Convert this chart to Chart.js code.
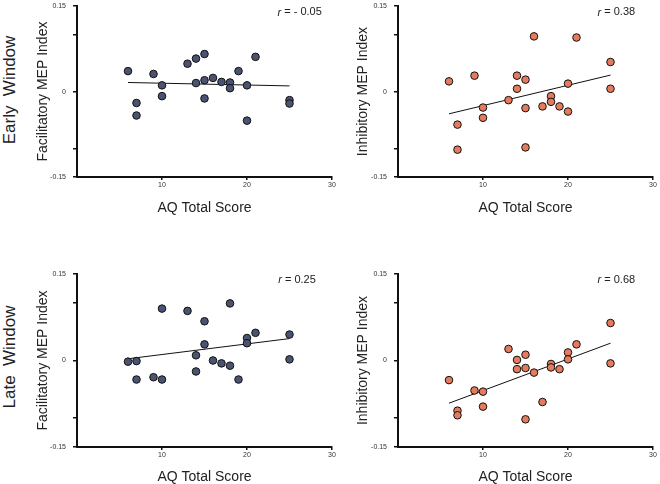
<!DOCTYPE html>
<html>
<head>
<meta charset="utf-8">
<script src="https://cdn.jsdelivr.net/npm/chart.js@4/dist/chart.umd.min.js"></script>
<style>
  html, body { margin: 0; padding: 0; background: #fff; }
  #wrap { position: relative; width: 660px; height: 484px; overflow: hidden; font-family: "Liberation Sans", Arial, sans-serif; }
  canvas { position: absolute; }
  .row { position: absolute; font-size: 17px; color: #222; white-space: pre; transform: translate(-50%, -50%) rotate(-90deg); }
</style>
</head>
<body>
<div id="wrap">
  <div class="row" style="left:10px; top:90px;">Early  Window</div>
  <div class="row" style="left:10px; top:357px;">Late  Window</div>
  <canvas id="c1" width="325" height="245" style="left:20px; top:-5px;"></canvas>
  <canvas id="c2" width="325" height="245" style="left:335px; top:-5px;"></canvas>
  <canvas id="c3" width="325" height="244" style="left:20px; top:240px;"></canvas>
  <canvas id="c4" width="325" height="244" style="left:335px; top:240px;"></canvas>
</div>
<script>
// valeurs
const aqEarlyFac  = [6, 7, 7, 9, 10, 10, 13, 14, 14, 15, 15, 15, 16, 17, 18, 18, 19, 20, 20, 21, 25, 25];
const mepEarlyFac = [0.036, -0.020, -0.042, 0.031, 0.011, -0.008, 0.049, 0.058, 0.015, 0.066, 0.020, -0.012, 0.024, 0.017, 0.016, 0.006, 0.036, 0.011, -0.051, 0.061, -0.015, -0.021];

const aqEarlyInh  = [6, 7, 7, 9, 10, 10, 13, 14, 14, 15, 15, 15, 16, 17, 18, 18, 19, 20, 20, 21, 25, 25];
const mepEarlyInh = [0.018, -0.058, -0.102, 0.028, -0.028, -0.046, -0.015, 0.028, 0.005, 0.021, -0.029, -0.098, 0.097, -0.026, -0.008, -0.018, -0.026, 0.014, -0.035, 0.095, 0.052, 0.005];

const aqLateFac  = [6, 7, 7, 9, 10, 10, 13, 14, 14, 15, 15, 16, 17, 18, 18, 19, 20, 20, 21, 25, 25];
const mepLateFac = [-0.002, -0.001, -0.033, -0.029, 0.090, -0.033, 0.086, 0.009, -0.019, 0.068, 0.028, 0.000, -0.005, 0.099, -0.009, -0.033, 0.039, 0.030, 0.048, 0.045, 0.002];

const aqLateInh  = [6, 7, 7, 9, 10, 10, 13, 14, 14, 15, 15, 15, 16, 17, 18, 18, 19, 20, 20, 21, 25, 25];
const mepLateInh = [-0.034, -0.087, -0.095, -0.052, -0.054, -0.080, 0.020, 0.001, -0.015, 0.010, -0.013, -0.102, -0.021, -0.072, -0.006, -0.012, -0.015, 0.014, 0.002, 0.028, 0.065, -0.005];

// droites de régression (extrémités lues)
const fitX = [6, 25];
const fitEarlyFac = [0.016, 0.010];
const fitEarlyInh = [-0.039, 0.029];
const fitLateFac  = [0.003, 0.038];
const fitLateInh  = [-0.074, 0.030];

// coefficients affichés
const rEarlyFac = '= - 0.05';
const rEarlyInh = '= 0.38';
const rLateFac  = '= 0.25';
const rLateInh  = '= 0.68';

// ticks
const xTickValues = [10, 20, 30];
const yTickValues = [-0.15, -0.1, 0, 0.1, 0.15];
const yTickLabels = ['-0.15', '', '0', '', '0.15'];

const BLUE = '#4b5372';
const ORANGE = '#e57a5d';

// texte "r = ..." en haut à droite
const rLabelPlugin = {
  id: 'rLabel',
  afterDatasetsDraw(chart, args, opts) {
    const ctx = chart.ctx;
    const x = chart.scales.x.getPixelForValue(opts.xEnd);
    const y = chart.scales.y.getPixelForValue(0.139);
    ctx.save();
    ctx.fillStyle = '#222';
    ctx.textBaseline = 'middle';
    ctx.textAlign = 'right';
    ctx.font = '11px "Liberation Sans", Arial, sans-serif';
    const rest = ' ' + opts.text;
    ctx.fillText(rest, x, y);
    const w = ctx.measureText(rest).width;
    ctx.font = 'italic 11px "Liberation Sans", Arial, sans-serif';
    ctx.fillText('r', x - w, y);
    ctx.restore();
  }
};

function makePanel(id, xs, ys, fit, color, yTitle, rText, rX, lay) {
  const pts = xs.map((x, i) => ({ x: x, y: ys[i] }));
  const line = fitX.map((x, i) => ({ x: x, y: fit[i] }));
  return new Chart(document.getElementById(id), {
    type: 'scatter',
    data: {
      datasets: [
        {
          data: pts,
          backgroundColor: color, borderColor: '#111', borderWidth: 1,
          pointRadius: 3.8, pointHoverRadius: 3.8, order: 1
        },
        {
          type: 'line',
          data: line,
          borderColor: '#111', borderWidth: 1, pointRadius: 0,
          fill: false, order: 2
        }
      ]
    },
    options: {
      responsive: false,
      animation: false,
      events: [],
      layout: { padding: { top: lay.top, right: lay.right, left: 0, bottom: 0 } },
      plugins: {
        legend: { display: false },
        tooltip: { enabled: false },
        rLabel: { text: rText, xEnd: rX }
      },
      scales: {
        x: {
          type: 'linear', min: 0, max: 30,
          afterBuildTicks: s => { s.ticks = xTickValues.map(v => ({ value: v })); },
          afterFit: s => { s.height = lay.xh; },
          border: { display: true, color: '#111', width: 2 },
          grid: { drawOnChartArea: false, drawTicks: true, tickLength: 3, color: '#111', lineWidth: 1.5 },
          ticks: { font: { size: 7, family: '"Liberation Sans", Arial' }, color: '#333', padding: 1, maxRotation: 0 },
          title: {
            display: true, text: 'AQ Total Score', color: '#222',
            font: { size: 14, family: '"Liberation Sans", Arial', lineHeight: 1 },
            padding: { top: 0, bottom: lay.xtp }
          }
        },
        y: {
          type: 'linear', min: -0.15, max: 0.15,
          afterBuildTicks: s => { s.ticks = yTickValues.map(v => ({ value: v })); },
          afterFit: s => { s.width = lay.yw; },
          border: { display: true, color: '#111', width: 2 },
          grid: { drawOnChartArea: false, drawTicks: true, tickLength: 4, color: '#111', lineWidth: 1.5 },
          ticks: {
            font: { size: 7, family: '"Liberation Sans", Arial' }, color: '#333', padding: 7,
            callback: v => { const i = yTickValues.indexOf(v); return i >= 0 ? yTickLabels[i] : ''; }
          },
          title: {
            display: true, text: yTitle, color: '#222',
            font: { size: 14, family: '"Liberation Sans", Arial', lineHeight: 1 },
            padding: { top: lay.ytp, bottom: 0 }
          }
        }
      }
    },
    plugins: [rLabelPlugin]
  });
}

makePanel('c1', aqEarlyFac, mepEarlyFac, fitEarlyFac, BLUE, 'Facilitatory MEP Index', rEarlyFac, 28.8,
  { top: 6, right: 13, yw: 57, xh: 63, ytp: 16, xtp: 25 });
makePanel('c2', aqEarlyInh, mepEarlyInh, fitEarlyInh, ORANGE, 'Inhibitory MEP Index', rEarlyInh, 27.9,
  { top: 6, right: 7, yw: 63, xh: 63, ytp: 21, xtp: 25 });
makePanel('c3', aqLateFac, mepLateFac, fitLateFac, BLUE, 'Facilitatory MEP Index', rLateFac, 28.1,
  { top: 34, right: 13, yw: 57, xh: 37, ytp: 16, xtp: 0 });
makePanel('c4', aqLateInh, mepLateInh, fitLateInh, ORANGE, 'Inhibitory MEP Index', rLateInh, 27.9,
  { top: 34, right: 7, yw: 63, xh: 37, ytp: 21, xtp: 0 });
</script>
</body>
</html>
